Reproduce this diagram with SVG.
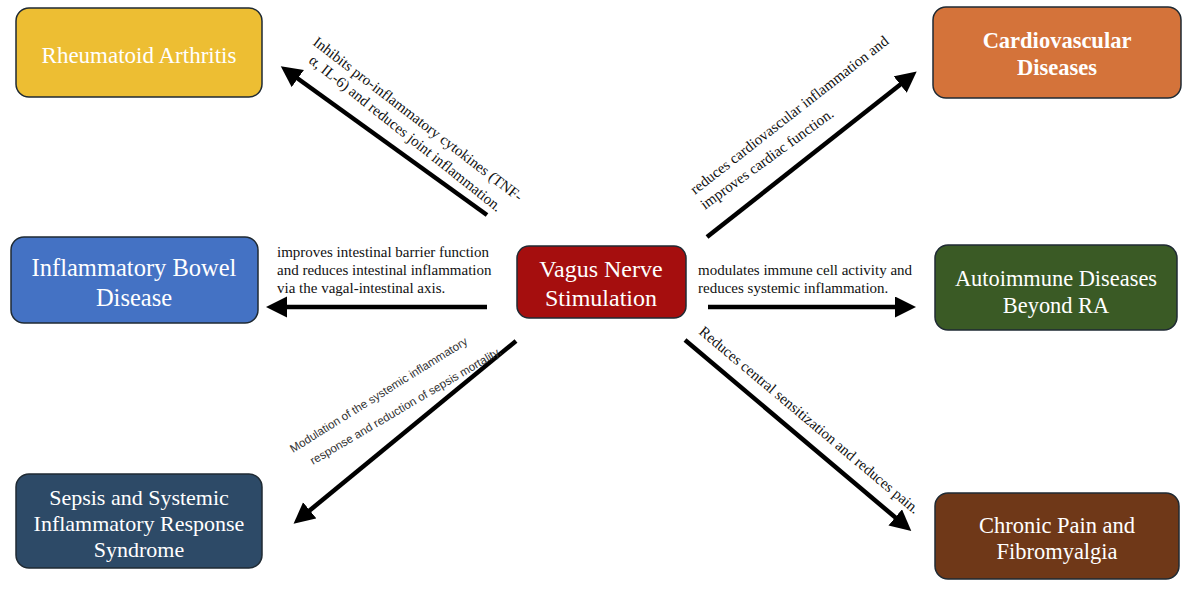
<svg xmlns="http://www.w3.org/2000/svg" width="1200" height="590" viewBox="0 0 1200 590">
<style>
.box{stroke:#1f2a33;stroke-width:1.5}
.nt{font-family:"Liberation Serif","Times New Roman",serif;fill:#fff;text-anchor:middle}
.lb{font-family:"Liberation Serif","Times New Roman",serif;fill:#111;font-size:15px}
.sl{font-family:"Liberation Sans",Arial,sans-serif;fill:#333;font-size:11.6px}
.ar{stroke:#000;stroke-width:4.5;fill:none;marker-end:url(#ah)}
</style>
<defs>
<marker id="ah" markerUnits="userSpaceOnUse" markerWidth="22" markerHeight="22" refX="1" refY="10.5" orient="auto" viewBox="0 0 22 22">
<path d="M0,0 L21,10.5 L0,21 z" fill="#000"/>
</marker>
</defs>
<rect width="1200" height="590" fill="#fff"/>
<g id="connectors">
<line class="ar" x1="487" y1="215" x2="297" y2="78"/>
<line class="ar" x1="707" y1="237" x2="901" y2="84"/>
<line class="ar" x1="487" y1="307" x2="286" y2="307"/>
<line class="ar" x1="708" y1="307" x2="896" y2="307"/>
<line class="ar" x1="516" y1="341" x2="309" y2="511"/>
<line class="ar" x1="685" y1="340" x2="896" y2="518"/>
<text class="lb" transform="translate(312,44) rotate(37.5)">Inhibits pro-inflammatory cytokines (TNF-</text>
<text class="lb" transform="translate(308,62) rotate(38.5)">α, IL-6) and reduces joint inflammation.</text>
<text class="lb" transform="translate(695,195) rotate(-38)">reduces cardiovascular inflammation and</text>
<text class="lb" transform="translate(705,210) rotate(-36)">improves cardiac function.</text>
<text class="lb" x="277" y="257">improves intestinal barrier function</text>
<text class="lb" x="277" y="275">and reduces intestinal inflammation</text>
<text class="lb" x="277" y="293">via the vagal-intestinal axis.</text>
<text class="lb" x="698" y="275">modulates immune cell activity and</text>
<text class="lb" x="698" y="293">reduces systemic inflammation.</text>
<text class="sl" transform="translate(293,453) rotate(-32)">Modulation of the systemic inflammatory</text>
<text class="sl" transform="translate(313,465) rotate(-30.5)">response and reduction of sepsis mortality.</text>
<text class="lb" font-size="14.5" transform="translate(698,333) rotate(40)">Reduces central sensitization and reduces pain.</text>
</g>
<g id="vns">
<rect class="box" x="517" y="246" width="169" height="72" rx="12" fill="#A50E0E"/>
<text class="nt" x="601" y="277" font-size="24">Vagus Nerve</text>
<text class="nt" x="601" y="306" font-size="24">Stimulation</text>
</g>
<g id="ra">
<rect class="box" x="16" y="8" width="246" height="89" rx="13" fill="#EDBE33"/>
<text class="nt" x="139" y="63" font-size="23">Rheumatoid Arthritis</text>
</g>
<g id="ibd">
<rect class="box" x="11" y="237" width="247" height="86" rx="13" fill="#4472C4"/>
<text class="nt" x="134" y="276" font-size="24.5">Inflammatory Bowel</text>
<text class="nt" x="134" y="306" font-size="24.5">Disease</text>
</g>
<g id="sepsis">
<rect class="box" x="16" y="474" width="246" height="94" rx="13" fill="#2D4A67"/>
<text class="nt" x="139" y="505" font-size="22">Sepsis and Systemic</text>
<text class="nt" x="139" y="531" font-size="22">Inflammatory Response</text>
<text class="nt" x="139" y="557" font-size="22">Syndrome</text>
</g>
<g id="cardio">
<rect class="box" x="933" y="7" width="248" height="91" rx="13" fill="#D4733A"/>
<text class="nt" x="1057" y="48" font-size="22.5" font-weight="bold">Cardiovascular</text>
<text class="nt" x="1057" y="75" font-size="22.5" font-weight="bold">Diseases</text>
</g>
<g id="autoimmune">
<rect class="box" x="935" y="245" width="242" height="85" rx="13" fill="#3A5A25"/>
<text class="nt" x="1056" y="286" font-size="22.4">Autoimmune Diseases</text>
<text class="nt" x="1056" y="313" font-size="22.4">Beyond RA</text>
</g>
<g id="chronic">
<rect class="box" x="935" y="493" width="244" height="86" rx="13" fill="#6F3818"/>
<text class="nt" x="1057" y="533" font-size="22.5">Chronic Pain and</text>
<text class="nt" x="1057" y="559" font-size="22.5">Fibromyalgia</text>
</g>
</svg>
